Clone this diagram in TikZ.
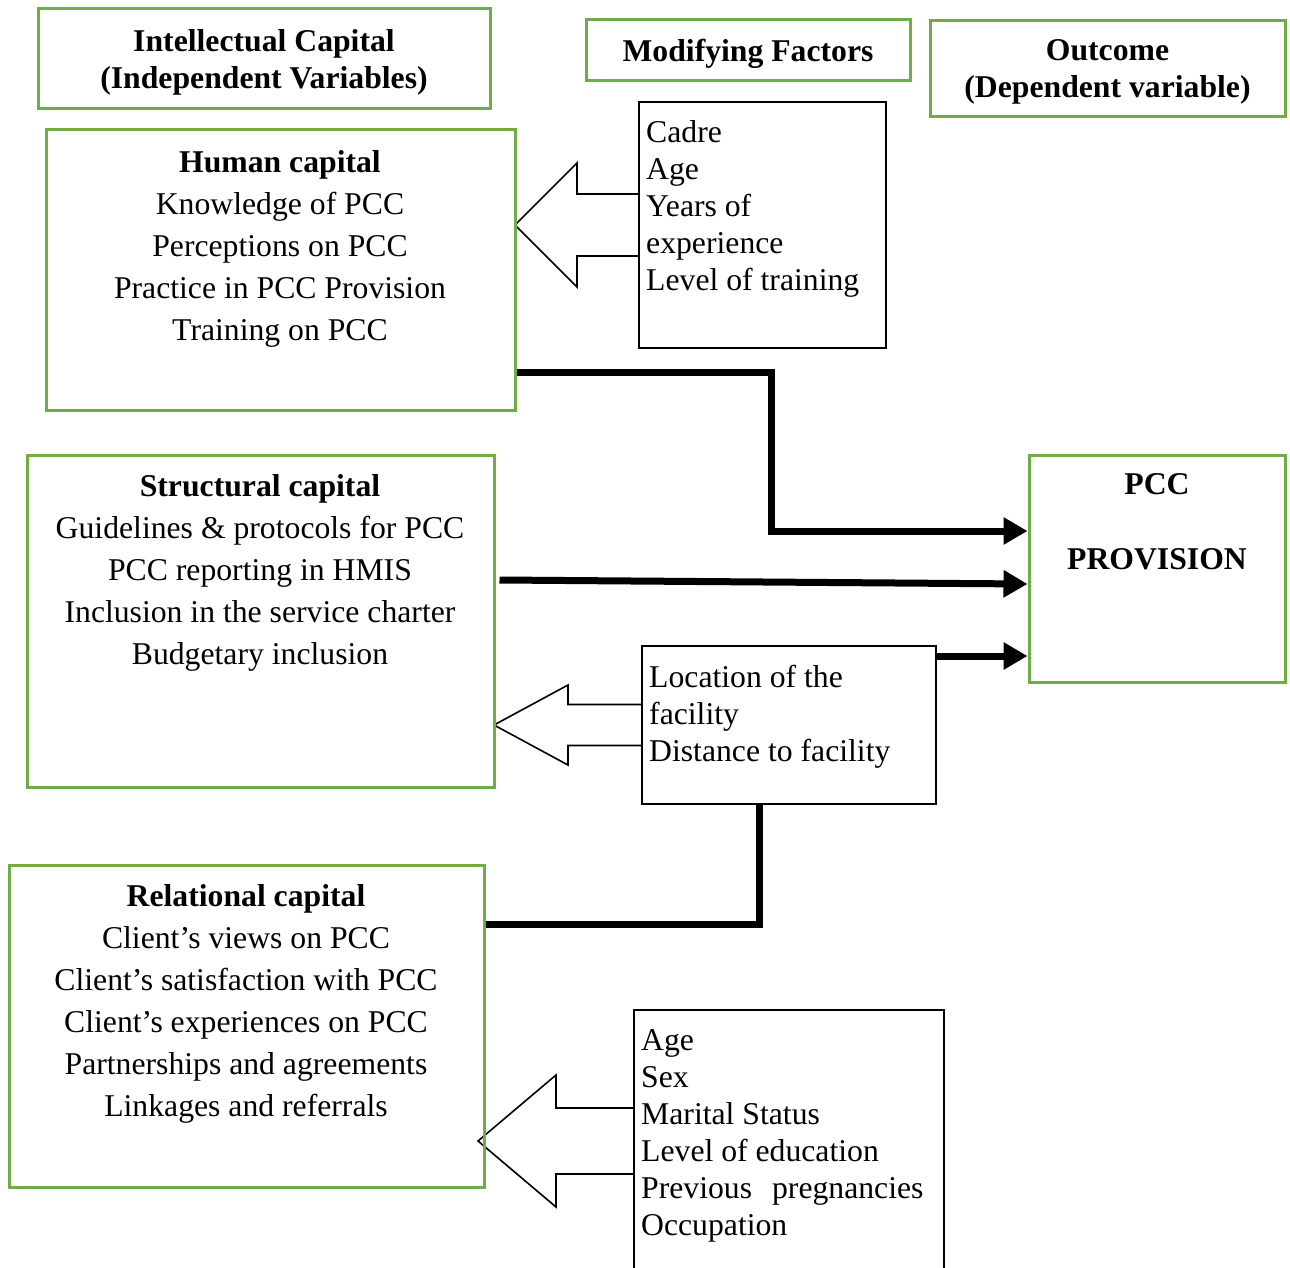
\documentclass[tikz,border=0pt]{standalone}
\usepackage{fontspec}
\setmainfont{Liberation Serif}
\usepackage{xcolor}
\usetikzlibrary{arrows.meta, positioning}
\definecolor{boxgreen}{HTML}{70AD47}

\begin{document}
\begin{tikzpicture}[x=1pt, y=-1pt,
  panel/.style={rectangle, draw=boxgreen, line width=3pt, inner sep=0pt},
  factorbox/.style={rectangle, draw, line width=1.6pt, inner sep=0pt},
  heading/.style={font=\fontsize{31.7}{37}\selectfont\bfseries, align=center},
  items/.style={font=\fontsize{31.7}{42}\selectfont, align=center, inner sep=0pt, anchor=north},
  factors/.style={font=\fontsize{31.7}{37}\selectfont, align=left, inner sep=0pt, anchor=north west},
  link/.style={line width=7pt},
  arrow/.style={link, -{Triangle[length=24pt, width=26pt]}},
  hollow/.style={draw, line width=1.6pt, fill=white, line join=miter}
]
\useasboundingbox (0,0) rectangle (1290,1268);
\clip (0,0) rectangle (1290,1268);

% hollow arrows from the modifying factors
\foreach \tx/\y/\hx/\hh/\sh/\ex in {515/225/577/62/31/639, 494/725/568/40/20.5/642, 478/1141/556/66/33/634} {
  \draw[hollow] (\tx,\y) -- (\hx,\y-\hh) -- (\hx,\y-\sh) -- (\ex,\y-\sh) -- (\ex,\y+\sh) -- (\hx,\y+\sh) -- (\hx,\y+\hh) -- cycle;
}

% headers
\node[panel, heading, text depth=0pt, minimum width=452pt, minimum height=100pt] (intel) at (264,59) {Intellectual Capital\\(Independent Variables)};
\node[panel, heading, text depth=0pt, minimum width=324pt, minimum height=61pt] (modif) at (748,50.5) {Modifying Factors};
\node[panel, heading, text depth=0pt, minimum width=355pt, minimum height=96pt] (outc) at (1107.5,69) {Outcome\\(Dependent variable)};

% capital boxes
\node[panel, minimum width=469pt, minimum height=280pt] (hum) at (280.5,270) {};
\node[items] (humtxt) at (280,150) {\textbf{Human capital}\\Knowledge of PCC\\Perceptions on PCC\\Practice in PCC Provision\\Training on PCC};
\node[panel, minimum width=467pt, minimum height=332pt] (str) at (260.5,621) {};
\node[items] (strtxt) at (260,474) {\textbf{Structural capital}\\Guidelines \& protocols for PCC\\PCC reporting in HMIS\\Inclusion in the service charter\\Budgetary inclusion};
\node[panel, minimum width=475pt, minimum height=322pt] (rel) at (246.5,1026) {};
\node[items] (reltxt) at (246,884) {\textbf{Relational capital}\\Client’s views on PCC\\Client’s satisfaction with PCC\\Client’s experiences on PCC\\Partnerships and agreements\\Linkages and referrals};

% outcome
\node[panel, minimum width=256pt, minimum height=227pt] (pcc) at (1157,568.5) {};
\node[heading, inner sep=0pt, anchor=north] (pcctxt) at (1157,473) {PCC\\[38pt]PROVISION};

% modifying factors
\node[factorbox, minimum width=247pt, minimum height=246pt] (facA) at (762.5,225) {};
\node[factors] (facAtxt) at (646,120) {Cadre\\Age\\Years of\\experience\\Level of training};
\node[factorbox, minimum width=294pt, minimum height=158pt] (facB) at (789,725) {};
\node[factors] (facBtxt) at (649,665) {Location of the\\facility\\Distance to facility};
\node[factorbox, minimum width=310pt, minimum height=280pt] (facC) at (789,1150) {};
\node[factors] (facCtxt) at (641,1029) {Age\\Sex\\Marital Status\\Level of education\\Previous\hspace{20pt}pregnancies\\Occupation};

% links to the outcome
\draw[arrow] (hum.east |- 0,372) -- (771,372) -- (771,531) -- (pcc.west |- 0,531);
\draw[arrow] ([xshift=4pt]str.east |- 0,580) -- (pcc.west |- 0,584);
\draw[arrow] (facB.east |- 0,656) -- (pcc.west |- 0,656);
\draw[link] (rel.east |- 0,924) -| (facB.south -| 759,0);
\end{tikzpicture}
\end{document}
